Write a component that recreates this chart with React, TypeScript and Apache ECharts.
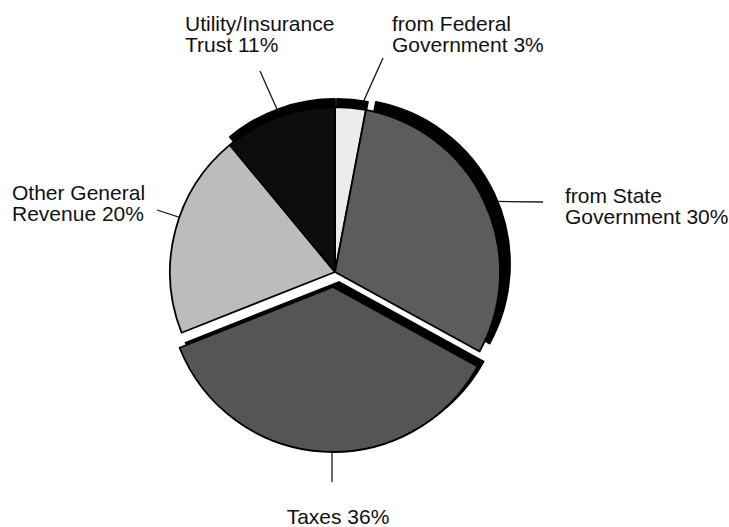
import React, { useEffect, useRef } from "react";
import * as echarts from "echarts";

// ---- data ----
const categories = [
  "from Federal\nGovernment",
  "from State\nGovernment",
  "Taxes",
  "Other General\nRevenue",
  "Utility/Insurance\nTrust",
];
const shares = [3, 30, 36, 20, 11];
const explodedCategory = "Taxes";

// ---- styles / layout ----
const sliceColors = ["#ececec", "#5c5c5c", "#555555", "#bcbcbc", "#0a0a0a"];
const mainCenter = [335, 272];
const explodedCenter = [333, 287];
const pieRadius = 165;
const FONT = "'Liberation Sans', Arial, Helvetica, sans-serif";

// label placement (per slice, in order of categories)
const labelPlacement = [
  { x: 392, y: 13, align: "left", out: [383, 58], f: 0.88, da: 1.2 },
  { x: 565, y: 185, align: "left", out: [543, 202], f: 0.82, da: -6.5 },
  { x: 338, y: 506, align: "center", out: [332, 482], f: 0.44, da: -3 },
  { x: 12, y: 182, align: "left", out: [157, 210], f: 0.66, da: 5.5 },
  { x: 185, y: 13, align: "left", out: [260, 71], f: 1.0, da: 0.4 },
];

const shadowOffsets: Record<number, [number, number]> = {
  0: [2, -8],
  1: [10, -8],
  2: [6, -5],
  4: [0, -8],
};

const shadowFor = (i: number) => {
  const o = shadowOffsets[i];
  if (!o) return {};
  return { shadowColor: "#000", shadowBlur: 0, shadowOffsetX: o[0], shadowOffsetY: o[1] };
};

export default function App() {
  const ref = useRef<HTMLDivElement>(null);
  useEffect(() => {
    if (!ref.current) return;
    const chart = echarts.init(ref.current, undefined, { renderer: "svg" });
    const total = shares.reduce((a, b) => a + b, 0);
    const midAngles: number[] = [];
    let acc = 0;
    shares.forEach((v) => {
      midAngles.push(((acc + v / 2) / total) * 360);
      acc += v;
    });

    const buildData = (exploded: boolean) =>
      categories.map((name, i) => {
        const isExp = name === explodedCategory;
        const visible = exploded ? isExp : !isExp;
        return {
          name,
          value: shares[i],
          itemStyle: visible
            ? { color: sliceColors[i], borderColor: "#000", borderWidth: 1.8, ...shadowFor(i) }
            : { color: "rgba(0,0,0,0)", borderWidth: 0 },
          label: { show: visible },
          labelLine: { show: visible },
        };
      });

    const layoutFn = (center: number[]) => (params: any) => {
      const i = params.dataIndex;
      const p = labelPlacement[i];
      const a = ((midAngles[i] + p.da) * Math.PI) / 180;
      const inner = [
        center[0] + p.f * pieRadius * Math.sin(a),
        center[1] - p.f * pieRadius * Math.cos(a),
      ];
      const mid = [(inner[0] + p.out[0]) / 2, (inner[1] + p.out[1]) / 2];
      return {
        x: p.x,
        y: p.y,
        align: p.align,
        verticalAlign: "top",
        labelLinePoints: [inner, mid, p.out],
      };
    };

    const commonSeries = {
      type: "pie",
      radius: pieRadius,
      startAngle: 90,
      clockwise: true,
      silent: true,
      avoidLabelOverlap: false,
      emphasis: { disabled: true },
      label: {
        show: true,
        position: "outside",
        formatter: (p: any) => `${p.name} ${p.value}%`,
        color: "#111",
        fontFamily: FONT,
        fontSize: 21,
        lineHeight: 21,
        width: 220,
        overflow: "none",
      },
      labelLine: {
        show: true,
        lineStyle: { color: "#1a1a1a", width: 1.3 },
      },
    };

    chart.setOption({
      animation: false,
      backgroundColor: "#ffffff",
      series: [
        {
          ...commonSeries,
          name: "main",
          center: mainCenter,
          data: buildData(false),
          labelLayout: layoutFn(mainCenter),
        },
        {
          ...commonSeries,
          name: "exploded",
          center: explodedCenter,
          data: buildData(true),
          labelLayout: layoutFn(explodedCenter),
        },
      ],
    });
    return () => chart.dispose();
  }, []);
  return (
    <div
      ref={ref}
      style={{ position: "absolute", left: 0, top: 0, width: 729, height: 527 }}
    />
  );
}
